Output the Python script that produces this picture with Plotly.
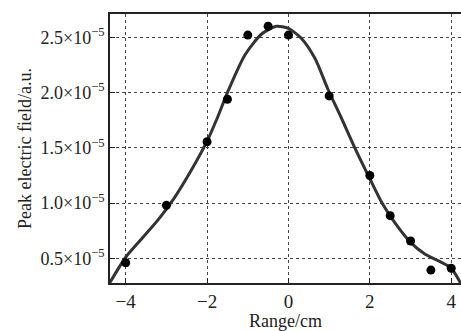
import plotly.graph_objects as go

# Measured points (units of 1e-5)
pt_x = [-4.0, -3.0, -2.0, -1.5, -1.0, -0.5, 0.0, 1.0, 2.0, 2.5, 3.0, 3.5, 4.0]
pt_y = [0.46, 0.98, 1.555, 1.94, 2.52, 2.60, 2.52, 1.97, 1.25, 0.886, 0.657, 0.394, 0.41]

# Fitted curve (units of 1e-5)
fit_x = [-4.39, -4.0, -3.6, -3.2, -2.8, -2.4, -2.0, -1.75, -1.5, -1.07, -0.66,
         -0.3, 0.0, 0.32, 0.65, 0.97, 1.3, 1.63, 2.0, 2.3, 2.6, 3.0, 3.35, 3.7, 4.0, 4.24]
fit_y = [0.28, 0.51, 0.68, 0.85, 1.05, 1.29, 1.56, 1.77, 2.0, 2.34, 2.53,
         2.60, 2.58, 2.49, 2.31, 2.03, 1.77, 1.50, 1.22, 1.00, 0.83, 0.645, 0.54, 0.475, 0.41, 0.27]

x_ticks = [-4, -2, 0, 2, 4]
x_ticktext = ["\u22124", "\u22122", "0", "2", "4"]
y_ticks = [0.5, 1.0, 1.5, 2.0, 2.5]
y_ticktext = ["0.5\u00d710<sup>\u22125</sup>", "1.0\u00d710<sup>\u22125</sup>",
              "1.5\u00d710<sup>\u22125</sup>", "2.0\u00d710<sup>\u22125</sup>",
              "2.5\u00d710<sup>\u22125</sup>"]

font_family = "Liberation Serif, Times New Roman, serif"

fig = go.Figure()
fig.add_trace(go.Scatter(x=fit_x, y=fit_y, mode="lines",
                         line=dict(color="#333333", width=3, shape="spline", smoothing=0.7),
                         showlegend=False, hoverinfo="skip"))
fig.add_trace(go.Scatter(x=pt_x, y=pt_y, mode="markers",
                         marker=dict(color="black", size=9),
                         showlegend=False))

fig.update_layout(
    width=461, height=331,
    margin=dict(l=110, r=0, t=14, b=48),
    paper_bgcolor="white", plot_bgcolor="white",
    font=dict(family=font_family, size=19, color="#222222"),
    xaxis=dict(range=[-4.386, 4.24], tickvals=x_ticks, ticktext=x_ticktext,
               showgrid=True, gridcolor="#444444", griddash="dot", gridwidth=1,
               showline=True, linecolor="#222222", linewidth=1.5, mirror=True,
               ticks="inside", ticklen=5, tickcolor="#222222",
               zeroline=False, tickfont=dict(size=19),
               title=dict(text="Range/cm", standoff=4, font=dict(size=18))),
    yaxis=dict(range=[0.277, 2.711], tickvals=y_ticks, ticktext=y_ticktext,
               showgrid=True, gridcolor="#444444", griddash="dot", gridwidth=1,
               showline=True, linecolor="#222222", linewidth=1.5,
               ticks="inside", ticklen=5, tickcolor="#222222",
               zeroline=False, tickfont=dict(size=18),
               title=dict(text="Peak electric field/a.u.", standoff=4, font=dict(size=18))),
)

fig.write_html("out.html")
